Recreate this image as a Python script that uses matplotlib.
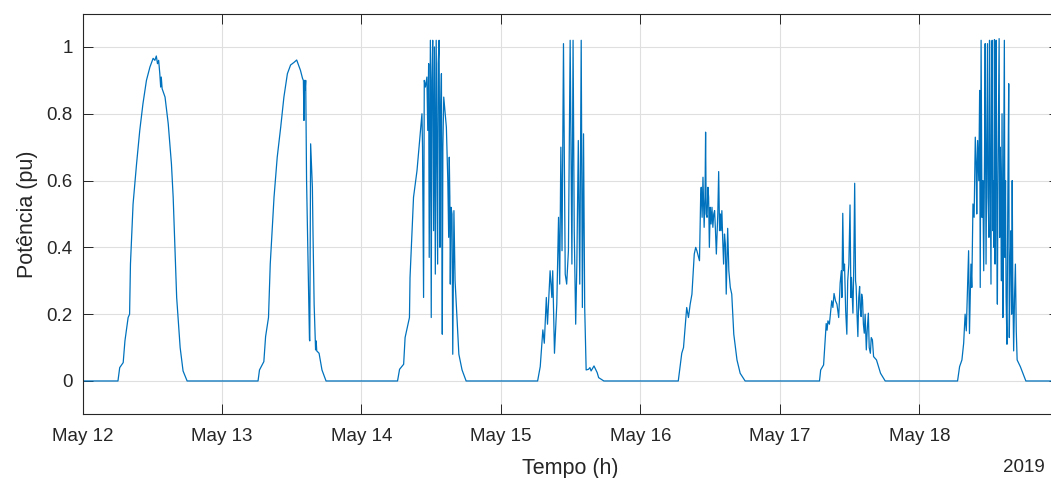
import datetime as dt

import numpy as np
import matplotlib
matplotlib.use('agg')
import matplotlib.pyplot as plt

plt.rcParams['font.family'] = ['Liberation Sans', 'DejaVu Sans']

start = dt.datetime(2019, 5, 12)

# Hour of day and normalised PV power (pu), one pair of lists per day.
# Night hours are zero and only the daylight part is stored.
h12 = [6.1, 6.4, 7.0, 7.3, 7.85, 8.1, 8.25, 8.7, 9.3, 9.85, 10.4, 11.0, 11.6, 12.15,
       12.45, 12.7, 12.9, 13.1, 13.3, 13.45, 13.55, 13.7, 14.2, 14.75, 15.3, 15.6,
       15.9, 16.2, 16.8, 17.3, 18.0]
p12 = [0.0, 0.04, 0.055, 0.12, 0.19, 0.2, 0.35, 0.53, 0.65, 0.75, 0.83, 0.90, 0.94, 0.966,
       0.96, 0.973, 0.95, 0.96, 0.92, 0.88, 0.91, 0.875, 0.85, 0.77, 0.65, 0.55,
       0.40, 0.25, 0.10, 0.03, 0.0]

h13 = [6.2, 6.45, 7.2, 7.5, 8.0, 8.3, 8.95, 9.5, 10.1, 10.65, 11.25, 11.8, 12.4, 12.85,
       13.5, 13.85, 14.0, 14.1, 14.2, 14.3, 14.4, 14.55, 15.05, 15.1, 15.25, 15.55,
       15.65, 15.85, 16.1, 16.2, 16.3, 16.7, 17.2, 17.9]
p13 = [0.0, 0.033, 0.058, 0.133, 0.19, 0.35, 0.55, 0.67, 0.76, 0.85, 0.92, 0.946, 0.954, 0.961,
       0.93, 0.906, 0.90, 0.78, 0.90, 0.87, 0.90, 0.60, 0.123, 0.12, 0.71, 0.58,
       0.45, 0.23, 0.093, 0.12, 0.09, 0.083, 0.033, 0.0]

h14 = [6.2, 6.55, 7.25, 7.5, 8.25, 8.35, 8.95, 9.55, 10.1, 10.4, 10.5, 10.68, 10.8, 11.0,
       11.25, 11.4, 11.55, 11.65, 11.85, 12.0, 12.1, 12.25, 12.4, 12.55, 12.7, 12.85,
       13.0, 13.1, 13.2, 13.35, 13.5, 13.6, 13.75, 13.9, 14.0, 14.15, 14.4, 14.6, 14.85,
       15.0, 15.1, 15.2, 15.28, 15.4, 15.57, 15.7, 15.9, 16.1, 16.45, 16.75, 17.3, 18.0]
p14 = [0.0, 0.035, 0.05, 0.13, 0.19, 0.31, 0.55, 0.63, 0.74, 0.80, 0.70, 0.25, 0.90, 0.88,
       0.91, 0.75, 0.95, 0.37, 1.02, 0.19, 0.90, 1.02, 0.45, 1.0, 0.32, 1.02,
       0.60, 0.35, 0.95, 1.02, 0.40, 0.80, 0.92, 0.14, 0.70, 0.85, 0.80, 0.76, 0.60,
       0.43, 0.67, 0.55, 0.29, 0.52, 0.50, 0.08, 0.51, 0.30, 0.18, 0.08, 0.033, 0.0]

h15 = [6.3, 6.75, 7.2, 7.45, 7.8, 8.0, 8.45, 8.75, 8.9, 9.2, 9.6, 9.9, 10.1, 10.3,
       10.5, 10.75, 11.05, 11.3, 11.6, 11.9, 12.2, 12.4, 12.6, 12.85, 13.05, 13.3,
       13.55, 13.8, 14.0, 14.2, 14.4, 14.65, 15.05, 15.3, 15.5, 16.0, 16.55, 16.8, 17.7]
p15 = [0.0, 0.043, 0.153, 0.113, 0.25, 0.17, 0.33, 0.25, 0.33, 0.083, 0.23, 0.49, 0.29, 0.70,
       0.39, 1.01, 0.32, 0.29, 0.39, 1.02, 0.35, 1.02, 0.45, 0.17, 0.35, 0.72,
       0.29, 1.02, 0.22, 0.74, 0.22, 0.033, 0.035, 0.04, 0.03, 0.045, 0.025, 0.01, 0.0]

h16 = [6.5, 7.1, 7.4, 7.95, 8.25, 8.55, 8.85, 9.25, 9.5, 9.7, 10.15, 10.35, 10.45, 10.6,
       10.75, 10.95, 11.1, 11.2, 11.3, 11.45, 11.6, 11.72, 11.85, 12.0, 12.15, 12.3,
       12.45, 12.6, 12.75, 12.9, 13.05, 13.3, 13.45, 13.6, 13.75, 13.85, 14.0, 14.15,
       14.3, 14.45, 14.6, 14.75, 14.85, 15.0, 15.2, 15.45, 15.7, 16.05, 16.6, 17.15, 18.0]
p16 = [0.0, 0.083, 0.10, 0.22, 0.19, 0.23, 0.26, 0.38, 0.40, 0.39, 0.36, 0.55, 0.58, 0.49,
       0.61, 0.46, 0.55, 0.745, 0.50, 0.49, 0.58, 0.55, 0.40, 0.52, 0.47, 0.52,
       0.46, 0.50, 0.51, 0.45, 0.38, 0.50, 0.627, 0.45, 0.50, 0.45, 0.51, 0.42,
       0.35, 0.44, 0.41, 0.26, 0.34, 0.457, 0.33, 0.28, 0.26, 0.14, 0.063, 0.023, 0.0]

h17 = [6.8, 7.0, 7.5, 7.95, 8.1, 8.25, 8.5, 8.9, 9.1, 9.3, 9.55, 9.8, 10.1, 10.35,
       10.55, 10.65, 10.8, 10.95, 11.1, 11.3, 11.5, 11.65, 11.85, 12.05, 12.2, 12.3,
       12.55, 12.7, 12.85, 13.0, 13.1, 13.25, 13.4, 13.55, 13.7, 13.8, 13.95, 14.05,
       14.2, 14.35, 14.5, 14.65, 14.85, 15.0, 15.2, 15.35, 15.55, 15.7, 15.9, 16.1,
       16.6, 17.3, 18.1]
p17 = [0.0, 0.033, 0.048, 0.172, 0.152, 0.18, 0.17, 0.24, 0.22, 0.262, 0.24, 0.23, 0.19, 0.293,
       0.33, 0.25, 0.502, 0.33, 0.35, 0.21, 0.14, 0.30, 0.35, 0.527, 0.25, 0.31,
       0.203, 0.35, 0.592, 0.30, 0.283, 0.20, 0.133, 0.25, 0.283, 0.22, 0.193, 0.26,
       0.243, 0.17, 0.143, 0.20, 0.093, 0.15, 0.203, 0.10, 0.083, 0.13, 0.123, 0.073,
       0.063, 0.023, 0.0]

h18 = [6.55, 6.9, 7.3, 7.6, 7.85, 8.05, 8.45, 8.6, 8.85, 9.0, 9.2, 9.4, 9.6, 9.75, 9.85,
       10.0, 10.2, 10.35, 10.45, 10.6, 10.75, 10.9, 11.05, 11.2, 11.3, 11.45, 11.55,
       11.7, 11.8, 11.95, 12.05, 12.15, 12.3, 12.4, 12.5, 12.6, 12.7, 12.8, 12.9, 13.0,
       13.1, 13.2, 13.3, 13.4, 13.5, 13.7, 13.8, 13.9, 14.0, 14.1, 14.2, 14.35, 14.45,
       14.6, 14.7, 14.8, 14.9, 15.05, 15.2, 15.35, 15.45, 15.6, 15.75, 15.85, 15.95,
       16.05, 16.2, 16.35, 16.5, 16.65, 16.8, 17.35, 18.3]
p18 = [0.0, 0.043, 0.063, 0.113, 0.20, 0.15, 0.39, 0.142, 0.35, 0.28, 0.53, 0.49, 0.73, 0.65, 0.50,
       0.72, 0.60, 0.87, 0.28, 1.02, 0.49, 0.60, 0.33, 0.70, 1.01, 0.35, 0.60,
       1.01, 0.55, 0.43, 1.02, 0.70, 0.29, 0.90, 1.02, 0.45, 0.60, 0.40, 1.022, 0.35,
       0.75, 1.02, 0.45, 0.23, 0.60, 1.025, 0.43, 0.70, 0.55, 0.30, 0.80, 0.19, 0.55,
       1.02, 0.37, 0.60, 0.25, 0.11, 0.55, 0.89, 0.13, 0.35, 0.45, 0.20, 0.60,
       0.30, 0.09, 0.25, 0.35, 0.15, 0.063, 0.043, 0.0]

days = [(h12, p12), (h13, p13), (h14, p14), (h15, p15),
        (h16, p16), (h17, p17), (h18, p18)]

times = [start]
power = [0.0]
for d, (hours, vals) in enumerate(days):
    for h, v in zip(hours, vals):
        times.append(start + dt.timedelta(days=d, hours=h))
        power.append(v)
times.append(start + dt.timedelta(days=7))
power.append(0.0)

txt = '#262626'

fig = plt.figure(figsize=(10.51, 4.78), dpi=100)
ax = fig.add_axes([0.0785, 0.1331, 0.9291, 0.8385])

ax.plot(times, power, color='#0072BD', lw=0.9)

ax.set_xlim(start, start + dt.timedelta(days=7))
ax.set_ylim(-0.1, 1.1)
ax.set_yticks(np.arange(0, 1.01, 0.2))
ax.set_yticklabels(['0', '0.2', '0.4', '0.6', '0.8', '1'])
# day ticks; the one at the right edge falls outside the saved figure
day_ticks = [start + dt.timedelta(days=d) for d in range(8)]
ax.set_xticks(day_ticks)
ax.set_xticklabels([t.strftime('%b %d') for t in day_ticks[:-1]] + [''])

ax.grid(True, color='#dfdfdf', lw=0.8)
ax.set_axisbelow(True)
ax.tick_params(direction='in', length=7, width=0.7, top=True, right=True,
               colors=txt, labelsize=13.5)
ax.tick_params(axis='x', pad=10)
ax.tick_params(axis='y', pad=7)
for s in ax.spines.values():
    s.set_color(txt)
    s.set_linewidth(0.8)

ax.set_xlabel('Tempo (h)', fontsize=15.5, color=txt, labelpad=9)
ax.set_ylabel('Potência (pu)', fontsize=15.5, color=txt, labelpad=6)
fig.text(1045 / 1051, 1 - 467 / 478, '2019', ha='right', va='center',
         fontsize=13.5, color=txt)

fig.savefig('out.png', dpi=100)
